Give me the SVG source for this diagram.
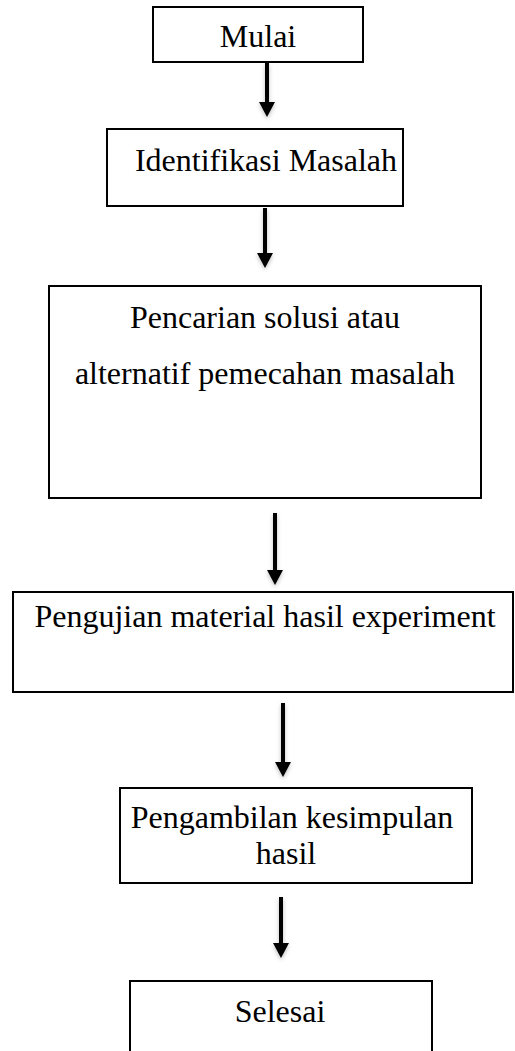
<svg xmlns="http://www.w3.org/2000/svg" width="515" height="1051" viewBox="0 0 515 1051">
<style>
.box{fill:#fff;stroke:#000;stroke-width:2}
.t{font-family:"Liberation Serif","Times New Roman",serif;font-size:32px;fill:#000;text-anchor:middle}
.arr{stroke:#000;stroke-width:4;fill:none;marker-end:url(#ah)}
</style>
<defs>
<marker id="ah" viewBox="0 0 15 16" markerWidth="15" markerHeight="16" markerUnits="userSpaceOnUse" refX="1" refY="8" orient="auto">
<path d="M0,0 L15,8 L0,16 z" fill="#000"/>
</marker>
<filter id="sh" filterUnits="userSpaceOnUse" x="0" y="0" width="515" height="1051">
<feDropShadow dx="0" dy="2" stdDeviation="2" flood-color="#000" flood-opacity="0.25"/>
</filter>
</defs>
<rect width="515" height="1051" fill="#fff"/>
<g id="connectors" filter="url(#sh)">
<line class="arr" x1="267" y1="63" x2="267" y2="103"/>
<line class="arr" x1="265" y1="208" x2="265" y2="254"/>
<line class="arr" x1="275" y1="513" x2="275" y2="571"/>
<line class="arr" x1="283" y1="703" x2="283" y2="763"/>
<line class="arr" x1="281" y1="897" x2="281" y2="944"/>
</g>
<g id="mulai">
<rect class="box" x="153" y="7" width="210" height="55"/>
<text class="t" x="258" y="47">Mulai</text>
</g>
<g id="identifikasi">
<rect class="box" x="107" y="129" width="296" height="77"/>
<text class="t" x="266" y="171">Identifikasi Masalah</text>
</g>
<g id="pencarian">
<rect class="box" x="49" y="286" width="432" height="212"/>
<text class="t" x="265" y="328">Pencarian solusi atau</text>
<text class="t" x="265" y="384">alternatif pemecahan masalah</text>
</g>
<g id="pengujian">
<rect class="box" x="13" y="592" width="500" height="100"/>
<text class="t" x="265" y="627">Pengujian material hasil experiment</text>
</g>
<g id="pengambilan">
<rect class="box" x="120" y="788" width="352" height="95"/>
<text class="t" x="292" y="828">Pengambilan kesimpulan</text>
<text class="t" x="286" y="864">hasil</text>
</g>
<g id="selesai">
<rect class="box" x="130" y="981" width="302" height="80"/>
<text class="t" x="280" y="1022">Selesai</text>
</g>
</svg>
